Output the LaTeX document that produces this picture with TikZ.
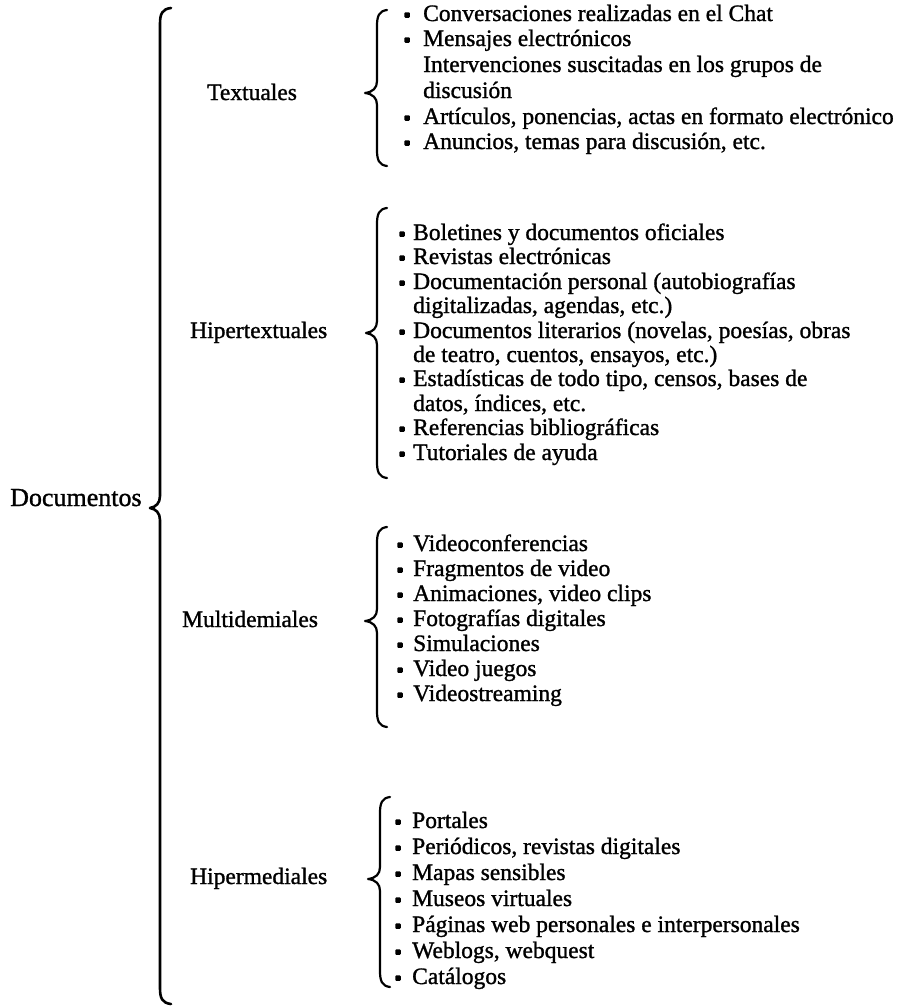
\documentclass[tikz,border=0pt]{standalone}
\usepackage{fontspec}
\newfontfamily\txt{Liberation Serif}[FakeBold=1.2]
\newcommand\mybrace[7]{% #1 xv, #2 xtip, #3 ytop, #4 ytip, #5 ybot, #6 curl, #7 width
\draw[line width=#7, line cap=round, line join=round]
 (#1+#6,#3) .. controls (#1+2,#3+1) and (#1,#3+6) .. (#1,#3+16)
 -- (#1,#4-12) .. controls (#1,#4-5) and (#1-4,#4-1) .. (#2,#4)
 .. controls (#1-4,#4+1) and (#1,#4+5) .. (#1,#4+12)
 -- (#1,#5-16) .. controls (#1,#5-6) and (#1+2,#5-1) .. (#1+#6,#5);}
\begin{document}
\begin{tikzpicture}[x=1pt,y=-1pt,
  itm/.style={anchor=base west, inner sep=0pt, font=\txt\fontsize{23.5}{25}\selectfont},
  bul/.style={rectangle, rounded corners=1pt, fill=black, inner sep=0pt, minimum size=5.5pt}]
\useasboundingbox (0,0) rectangle (907,1007);
% root
\node[itm, font=\txt\fontsize{26}{28}\selectfont] (doc) at (10,506) {Documentos};
\mybrace{160}{150}{8}{508}{1004}{11}{2.6pt}
% categories
\node[itm] (tex) at (207,100) {Textuales};
\node[itm] (hip) at (190,338) {Hipertextuales};
\node[itm] (mul) at (182,627) {Multidemiales};
\node[itm] (hme) at (190,884) {Hipermediales};
\mybrace{377}{365}{10}{93}{166}{10}{2.2pt}
\mybrace{377}{366}{208}{333}{478}{10}{2.2pt}
\mybrace{377}{365}{527}{621}{727}{10}{2.2pt}
\mybrace{380}{368}{797}{879}{987}{10}{2.2pt}
% Textuales items
\node[itm] (t1) at (423,21) {Conversaciones realizadas en el Chat};
\node[itm] (t2) at (423,46) {Mensajes electrónicos};
\node[itm] (t3) at (423,72) {Intervenciones suscitadas en los grupos de};
\node[itm] (t4) at (423,98) {discusión};
\node[itm] (t5) at (423,124) {Artículos, ponencias, actas en formato electrónico};
\node[itm] (t6) at (423,149) {Anuncios, temas para discusión, etc.};
\foreach \y in {15,40,118,143} \node[bul] at (407,\y) {};
% Hipertextuales items
\node[itm] (h1) at (413,240) {Boletines y documentos oficiales};
\node[itm] (h2) at (413,264) {Revistas electrónicas};
\node[itm] (h3) at (413,289) {Documentación personal (autobiografías};
\node[itm] (h4) at (413,313) {digitalizadas, agendas, etc.)};
\node[itm] (h5) at (413,338) {Documentos literarios (novelas, poesías, obras};
\node[itm] (h6) at (413,362) {de teatro, cuentos, ensayos, etc.)};
\node[itm] (h7) at (413,386) {Estadísticas de todo tipo, censos, bases de};
\node[itm] (h8) at (413,411) {datos, índices, etc.};
\node[itm] (h9) at (413,435) {Referencias bibliográficas};
\node[itm] (h10) at (413,460) {Tutoriales de ayuda};
\foreach \y in {234,258,283,332,380,429,454} \node[bul] at (402,\y) {};
% Multidemiales items
\node[itm] (m1) at (413,551) {Videoconferencias};
\node[itm] (m2) at (413,576) {Fragmentos de video};
\node[itm] (m3) at (413,601) {Animaciones, video clips};
\node[itm] (m4) at (413,626) {Fotografías digitales};
\node[itm] (m5) at (413,651) {Simulaciones};
\node[itm] (m6) at (413,676) {Video juegos};
\node[itm] (m7) at (413,701) {Videostreaming};
\foreach \y in {545,570,595,620,645,670,695} \node[bul] at (400,\y) {};
% Hipermediales items
\node[itm] (p1) at (412,828) {Portales};
\node[itm] (p2) at (412,854) {Periódicos, revistas digitales};
\node[itm] (p3) at (412,880) {Mapas sensibles};
\node[itm] (p4) at (412,906) {Museos virtuales};
\node[itm] (p5) at (412,932) {Páginas web personales e interpersonales};
\node[itm] (p6) at (412,958) {Weblogs, webquest};
\node[itm] (p7) at (412,984) {Catálogos};
\foreach \y in {822,848,874,900,926,952,978} \node[bul] at (398,\y) {};
\end{tikzpicture}
\end{document}
